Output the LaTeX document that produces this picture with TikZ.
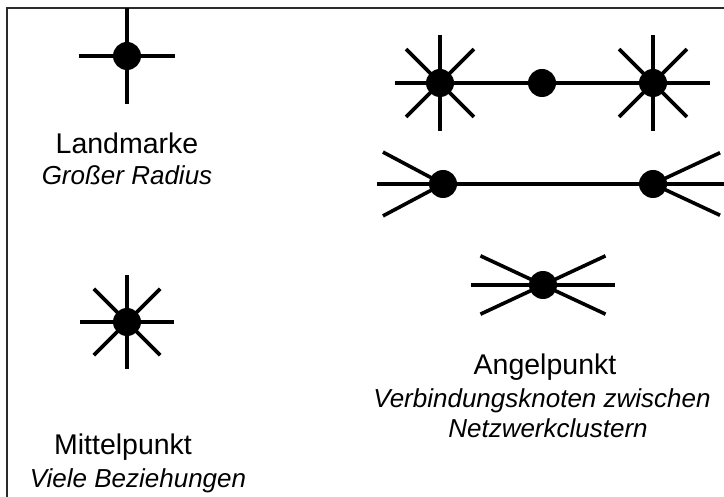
\documentclass[tikz,border=0pt]{standalone}
\usepackage{fontspec}
\setmainfont{Liberation Sans}
\usepackage{xcolor}
\usetikzlibrary{positioning}
\definecolor{ink}{HTML}{000000}
\definecolor{framegray}{HTML}{2B2B2B}

\tikzset{
  dot/.style={circle, fill=ink, inner sep=0pt, minimum size=28pt},
  spoke/.style={line width=3.6pt, ink},
  heading/.style={font=\fontsize{28.5}{32}\selectfont, inner sep=0pt, anchor=base},
  note/.style={font=\fontsize{26}{31}\selectfont\itshape, inner sep=0pt, anchor=base}
}

\begin{document}
\begin{tikzpicture}[x=1pt, y=-1pt]
        \useasboundingbox (0,0) rectangle (724,497);
        \draw[line width=2pt, framegray] (7,497) -- (7,8) -- (724,8);

        % Landmarke
        \node[dot] (lm) at (127,56) {};
        \foreach \a in {0,90,180,270}{\draw[spoke] (lm.center) -- ++(\a:48);}
        \node[heading] (lmtitle) at (127,154) {Landmarke};
        \node[note] (lmnote) at (127,185) {Großer Radius};

        % Mittelpunkt
        \node[dot] (mp) at (127,322) {};
        \foreach \a in {0,45,...,315}{\draw[spoke] (mp.center) -- ++(\a:47);}
        \node[heading] (mptitle) at (123,455) {Mittelpunkt};
        \node[note] (mpnote) at (138,487) {Viele Beziehungen};

        % Angelpunkte: obere Reihe
        \node[dot] (hubl) at (440,83) {};
        \node[dot] (hubm) at (542,83) {};
        \node[dot] (hubr) at (653,83) {};
        \draw[spoke] (hubl) -- (hubm) -- (hubr);
        \foreach \a in {45,90,135,225,270,315}{
          \draw[spoke] (hubl.center) -- ++(\a:48);
          \draw[spoke] (hubr.center) -- ++(\a:48);
        }
        \draw[spoke] (hubl.center) -- ++(180:45);
        \draw[spoke] (hubr.center) -- ++(0:57);

        % Angelpunkte: mittlere Reihe
        \node[dot] (fanl) at (443,184) {};
        \node[dot] (fanr) at (653,184) {};
        \draw[spoke] (fanl) -- (fanr);
        \draw[spoke] (fanl.center) -- ++(180:66);
        \foreach \a in {152,208}{\draw[spoke] (fanl.center) -- ++(\a:68);}
        \draw[spoke] (fanr.center) -- ++(0:71);
        \foreach \a in {25,335}{\draw[spoke] (fanr.center) -- ++(\a:74);}

        % Angelpunkt
        \node[dot] (ap) at (543,285) {};
        \draw[spoke] (ap.center) -- ++(0:72);
        \draw[spoke] (ap.center) -- ++(180:72);
        \foreach \a in {25,155,205,335}{\draw[spoke] (ap.center) -- ++(\a:69);}
        \node[heading] (aptitle) at (545,375) {Angelpunkt};
        \node[note] (apnote) at (542,408) {Verbindungsknoten zwischen};
        \node[note] (apnote2) at (548,438) {Netzwerkclustern};
      \end{tikzpicture}
\end{document}
